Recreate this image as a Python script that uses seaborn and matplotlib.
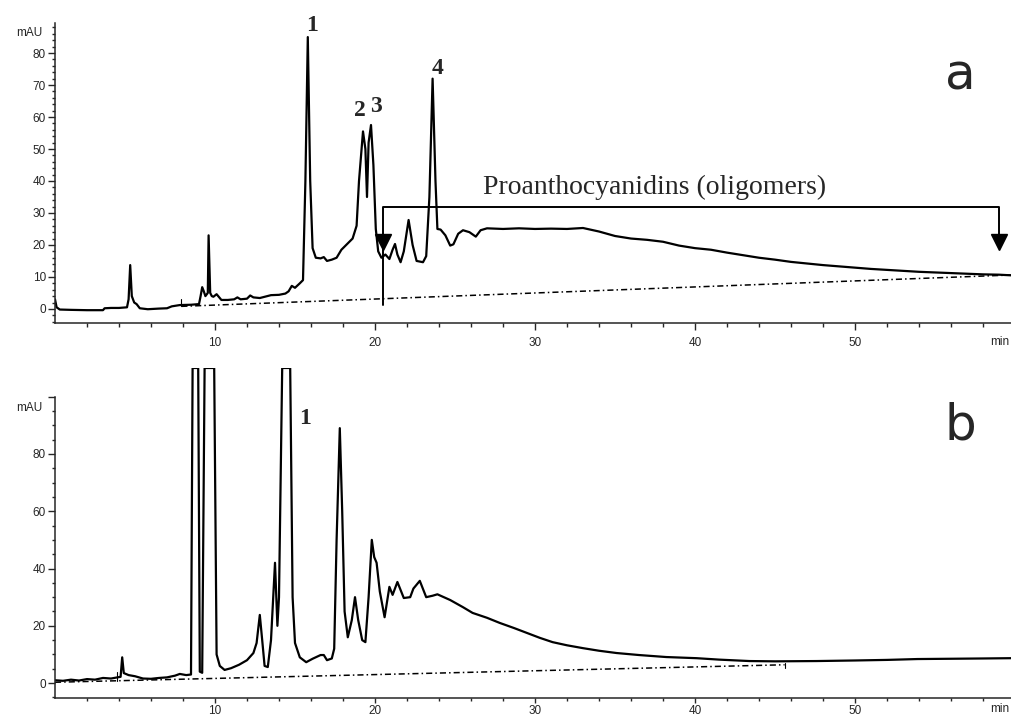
import matplotlib
matplotlib.use("Agg")
import matplotlib.pyplot as plt
from matplotlib.ticker import FixedLocator, MultipleLocator, FixedFormatter
import seaborn as sns

# chromatogram a (time in min, signal in mAU)
time_a = [0.0, 0.1, 0.3, 1.0, 2.0, 3.0, 3.1, 3.5, 4.0, 4.5, 4.6, 4.7, 4.8, 4.95, 5.1, 5.3,
          5.8, 6.5, 7.0, 7.3, 7.8, 8.5, 9.0, 9.1, 9.2, 9.3, 9.4, 9.55, 9.6, 9.7, 9.8, 9.9,
          10.1, 10.2, 10.4, 10.8, 11.2, 11.4, 11.6, 12.0, 12.2, 12.4, 12.8, 13.5, 14.0, 14.4,
          14.6, 14.8, 15.0, 15.3, 15.5, 15.65, 15.8, 15.95, 16.1, 16.3, 16.6, 16.8, 17.0, 17.3,
          17.6, 17.9, 18.2, 18.6, 18.85, 19.0, 19.25, 19.4, 19.5, 19.6, 19.75, 19.9, 20.05, 20.2,
          20.4, 20.65, 20.9, 21.1, 21.25, 21.4, 21.6, 21.8, 22.1, 22.35, 22.6, 23.0, 23.2, 23.4,
          23.6, 23.78, 23.9, 24.1, 24.4, 24.7, 24.9, 25.2, 25.5, 25.9, 26.3, 26.6, 27.0, 28.0,
          29.0, 30.0, 31.0, 32.0, 33.0, 34.0, 35.0, 36.0, 37.0, 38.0, 39.0, 40.0, 41.0, 42.0,
          43.0, 44.0, 45.0, 46.0, 47.0, 48.0, 49.0, 50.0, 51.0, 52.0, 53.0, 54.0, 55.0, 56.0,
          57.0, 58.0, 59.0, 59.75]
mau_a = [3.0, 0.5, -0.2, -0.3, -0.4, -0.4, 0.2, 0.3, 0.3, 0.5, 3.0, 13.7, 4.0, 2.0, 1.5, 0.2,
         -0.1, 0.1, 0.2, 0.8, 1.2, 1.3, 1.5, 4.0, 6.8, 5.5, 4.0, 5.0, 23.0, 5.0, 4.0, 3.8,
         4.6, 4.0, 2.8, 2.8, 3.0, 3.6, 3.0, 3.2, 4.2, 3.6, 3.4, 4.3, 4.4, 4.8,
         5.5, 7.2, 6.6, 8.0, 9.0, 40.0, 85.0, 40.0, 19.0, 16.0, 15.8, 16.2, 15.0, 15.4,
         16.0, 18.5, 20.0, 22.0, 26.0, 40.0, 55.5, 50.0, 35.0, 52.0, 57.5, 45.0, 25.0, 18.0,
         16.0, 17.0, 15.6, 18.5, 20.3, 17.0, 14.6, 18.0, 27.8, 20.0, 15.0, 14.6, 16.5, 35.0,
         72.0, 40.0, 25.0, 24.8, 23.0, 19.8, 20.2, 23.5, 24.6, 24.0, 22.6, 24.6, 25.2, 25.0,
         25.2, 25.0, 25.1, 25.0, 25.3, 24.2, 22.8, 22.0, 21.6, 21.0, 19.8, 19.0, 18.5, 17.6,
         16.8, 16.0, 15.4, 14.7, 14.2, 13.7, 13.3, 12.9, 12.5, 12.2, 11.9, 11.6, 11.4, 11.2,
         11.0, 10.8, 10.7, 10.5]

# chromatogram b (saturated peaks flat at 110 mAU)
time_b = [0.0, 0.5, 1.0, 1.5, 2.0, 2.5, 3.0, 3.5, 3.9, 4.1, 4.2, 4.3, 4.6, 5.0, 5.5, 6.0,
          6.5, 7.0, 7.5, 7.8, 8.2, 8.5, 8.6, 8.95, 9.05, 9.2, 9.35, 9.95, 10.1, 10.3, 10.6,
          11.0, 11.5, 12.0, 12.4, 12.6, 12.8, 12.95, 13.1, 13.3, 13.5, 13.75, 13.9, 14.0,
          14.2, 14.7, 14.85, 15.0, 15.3, 15.7, 16.1, 16.6, 16.8, 17.0, 17.3, 17.45, 17.6,
          17.8, 17.95, 18.1, 18.3, 18.55, 18.75, 18.95, 19.2, 19.4, 19.6, 19.8, 19.95, 20.1,
          20.3, 20.6, 20.9, 21.1, 21.4, 21.8, 22.2, 22.4, 22.8, 23.2, 23.6, 23.9, 24.7, 25.5,
          26.1, 27.0, 27.8, 28.7, 29.5, 30.3, 31.1, 32.0, 33.0, 34.0, 35.1, 36.5, 38.2, 40.1,
          41.5, 43.4, 45.0, 47.6, 50.0, 52.0, 53.9, 56.0, 58.0, 59.75]
mau_b = [1.0, 0.8, 1.2, 0.9, 1.4, 1.2, 1.8, 1.6, 2.0, 2.2, 9.0, 3.5, 2.8, 2.4, 1.6, 1.5,
         1.8, 2.0, 2.6, 3.2, 2.8, 3.0, 110, 110, 4.0, 3.6, 110, 110, 10.0, 6.0, 4.6,
         5.2, 6.4, 8.0, 10.5, 14.0, 23.8, 15.0, 6.0, 5.6, 15.0, 42.0, 20.0, 30.0,
         110, 110, 30.0, 14.0, 9.0, 7.3, 8.5, 9.8, 9.8, 8.0, 8.6, 12.0, 50.0,
         89.0, 60.0, 25.0, 16.0, 22.0, 30.0, 22.0, 15.0, 14.3, 30.0, 50.0, 44.0, 42.0,
         32.0, 23.0, 33.6, 30.8, 35.3, 29.7, 30.0, 33.0, 35.7, 30.0, 30.5, 31.0, 29.0, 26.5,
         24.5, 22.8, 21.0, 19.2, 17.5, 15.8, 14.3, 13.2, 12.2, 11.3, 10.5, 9.8, 9.1, 8.7,
         8.2, 7.7, 7.6, 7.7, 7.9, 8.1, 8.4, 8.5, 8.6, 8.7]

# integration baselines
base_a_t = [7.9, 59.75]
base_a_y = [0.8, 10.6]
base_b_t = [0.0, 45.6]
base_b_y = [0.3, 6.4]

# peak labels
peaks_a = ["1", "2", "3", "4"]
peaks_a_t = [16.06, 19.06, 20.06, 23.9]
peaks_a_y = [88.7, 61.9, 63.4, 75.3]
peaks_b = ["1"]
peaks_b_t = [15.6]
peaks_b_y = [92.3]

x_major = [10, 20, 30, 40, 50]

sns.set_style("ticks")
plt.rcParams["font.family"] = ["Liberation Sans", "DejaVu Sans"]

fig = plt.figure(figsize=(10.11, 7.19), dpi=100)
ax1 = fig.add_axes([0.0544, 0.5508, 0.9456, 0.4172])
ax2 = fig.add_axes([0.0544, 0.0292, 0.9456, 0.459])

dashdot = (0, (4, 2, 1, 2))

sns.lineplot(x=time_a, y=mau_a, ax=ax1, color="black", lw=1.6, sort=False, estimator=None)
sns.lineplot(x=base_a_t, y=base_a_y, ax=ax1, color="black", lw=1.1, linestyle=dashdot)
sns.lineplot(x=time_b, y=mau_b, ax=ax2, color="black", lw=1.6, sort=False, estimator=None)
sns.lineplot(x=base_b_t, y=base_b_y, ax=ax2, color="black", lw=1.1, linestyle=dashdot)

for ax, ylim, top in [(ax1, (-4.4, 89.4), 89.4), (ax2, (-5.2, 110), 100)]:
    ax.set_xlim(0, 59.75)
    ax.set_ylim(*ylim)
    sns.despine(ax=ax)
    ax.spines["left"].set_bounds(ylim[0], top)
    ax.spines["left"].set_linewidth(1.1)
    ax.spines["bottom"].set_linewidth(1.1)
    ax.xaxis.set_major_locator(FixedLocator(x_major))
    ax.xaxis.set_minor_locator(FixedLocator(list(range(2, 60, 2))))
    ax.set_xlabel("")
    ax.set_ylabel("")

ax1.set_yticks(list(range(0, 90, 10)))
ax1.yaxis.set_minor_locator(FixedLocator(list(range(-4, 90, 2))))

ax2.set_yticks([0, 20, 40, 60, 80, 100])
ax2.yaxis.set_major_formatter(FixedFormatter(["0", "20", "40", "60", "80", ""]))
ax2.yaxis.set_minor_locator(FixedLocator(list(range(-5, 100, 5))))

ax1.tick_params(axis="x", which="major", length=5, width=1, pad=5, labelsize=8.5)
ax1.tick_params(axis="x", which="minor", length=3, width=1)
ax2.tick_params(axis="x", which="major", length=3.5, width=1, pad=1.5, labelsize=8.5)
ax2.tick_params(axis="x", which="minor", length=2.5, width=1)
for ax in (ax1, ax2):
    ax.tick_params(axis="y", which="major", length=5, width=1, pad=1.5, labelsize=8.5)
    ax.tick_params(axis="y", which="minor", length=2.5, width=1)

# unit labels
ax1.text(-0.8, 86.3, "mAU", ha="right", va="center", fontsize=8.5, clip_on=False)
ax2.text(-0.8, 96, "mAU", ha="right", va="center", fontsize=8.5, clip_on=False)
for ax, pad in [(ax1, -19), (ax2, -11)]:
    ax.annotate("min", xy=(1.0, 0), xycoords="axes fraction",
                xytext=(-2, pad), textcoords="offset pixels",
                ha="right", va="center", fontsize=8.5, annotation_clip=False)

# peak numbers
for lab, t, y in zip(peaks_a, peaks_a_t, peaks_a_y):
    ax1.text(t, y, lab, ha="center", va="center", fontsize=17, fontweight="bold",
             family="Liberation Serif", clip_on=False)
for lab, t, y in zip(peaks_b, peaks_b_t, peaks_b_y):
    ax2.text(t, y, lab, ha="center", va="center", fontsize=17, fontweight="bold",
             family="Liberation Serif", clip_on=False)

# proanthocyanidin bracket
ax1.plot([20.5, 20.5, 59.0, 59.0], [1.2, 31.9, 31.9, 20.0], color="black", lw=1.4)
ax1.plot([20.5, 59.0], [20.9, 20.9], linestyle="none", marker="v", ms=11, color="black")
ax1.text(37.5, 38.0, "Proanthocyanidins (oligomers)", ha="center", va="center",
         fontsize=20, family="Liberation Serif")

# integration markers
ax1.plot([7.9, 7.9], [0.8, 3.0], color="black", lw=0.8)
ax2.plot([3.9, 3.9], [0.8, 4.0], color="black", lw=0.8)
ax2.plot([45.6, 45.6], [5.2, 7.0], color="black", lw=0.8)

ax1.text(56.6, 73, "a", ha="center", va="center", fontsize=36, family="DejaVu Sans")
ax2.text(56.6, 90, "b", ha="center", va="center", fontsize=36, family="DejaVu Sans")

fig.savefig("out.png", dpi=100)
